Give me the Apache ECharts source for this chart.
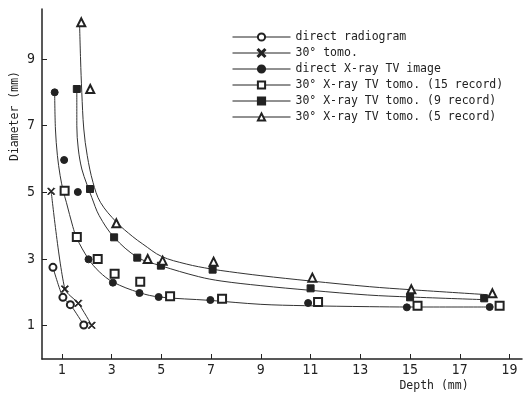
<!DOCTYPE html>
<html>
<head>
<meta charset="utf-8">
<script src="https://cdn.jsdelivr.net/npm/echarts@6/dist/echarts.min.js"></script>
<style>html,body{margin:0;padding:0;background:#fff}#c{width:524px;height:395px}</style>
</head>
<body>
<div id="c"></div>
<script>
// ---- data ----
const xTicks = [1, 3, 5, 7, 9, 11, 13, 15, 17, 19];
const yTicks = [1, 3, 5, 7, 9];

const depthRadiogram = [0.64, 1.04, 1.34, 1.88];
const diamRadiogram  = [2.75, 1.85, 1.63, 1.02];

const depthTomo = [0.57, 1.12, 1.66, 2.2];
const diamTomo  = [5.03, 2.1, 1.67, 1.01];

const depthTV = [0.71, 1.09, 1.64, 2.07, 3.05, 4.12, 4.89, 6.97, 10.9, 14.87, 18.2];
const diamTV  = [8.0, 5.97, 5.01, 2.99, 2.29, 1.98, 1.86, 1.77, 1.68, 1.55, 1.56];

const depthRec15 = [1.11, 1.6, 2.44, 3.12, 4.15, 5.35, 7.44, 11.3, 15.3, 18.6];
const diamRec15  = [5.05, 3.66, 3.0, 2.56, 2.32, 1.88, 1.81, 1.71, 1.6, 1.6];

const depthRec9 = [1.6, 2.13, 3.1, 4.03, 4.98, 7.06, 11.0, 15.0, 17.98];
const diamRec9  = [8.1, 5.1, 3.65, 3.04, 2.8, 2.68, 2.12, 1.85, 1.82];

const depthRec5 = [1.78, 2.14, 3.19, 4.45, 5.05, 7.1, 11.07, 15.05, 18.31];
const diamRec5  = [10.1, 8.1, 4.07, 3.0, 2.95, 2.92, 2.44, 2.09, 1.97];

// fitted curves
const curveADepth = [0.71, 0.74, 0.82, 0.93, 1.05, 1.18, 1.44, 1.6, 2.07, 2.5, 3.05, 4.12, 4.92, 6.93, 9.0, 10.75, 13.36, 15.0, 18.05];
const curveADiam  = [8.0, 6.9, 6.1, 5.5, 5.05, 4.7, 3.97, 3.62, 3.0, 2.62, 2.31, 1.99, 1.86, 1.76, 1.64, 1.6, 1.57, 1.56, 1.56];

const curveBDepth = [1.6, 1.6, 1.66, 1.8, 2.0, 2.2, 2.5, 3.1, 4.04, 4.97, 6.5, 7.4, 9.0, 11.0, 13.3, 15.0, 18.0];
const curveBDiam  = [8.1, 7.0, 6.3, 5.7, 5.25, 4.85, 4.3, 3.65, 3.05, 2.8, 2.47, 2.34, 2.2, 2.06, 1.92, 1.86, 1.78];

const curveCDepth = [1.71, 1.75, 1.8, 1.88, 2.02, 2.25, 2.55, 3.2, 3.85, 4.25, 5.0, 6.0, 7.0, 7.73, 9.0, 11.0, 13.36, 15.0, 18.1];
const curveCDiam  = [10.08, 9.0, 8.0, 6.9, 6.1, 5.3, 4.7, 4.1, 3.67, 3.45, 3.08, 2.85, 2.7, 2.62, 2.5, 2.34, 2.17, 2.08, 1.93];

const names = [
  'direct radiogram',
  '30° tomo.',
  'direct X-ray TV image',
  '30° X-ray TV tomo. (15 record)',
  '30° X-ray TV tomo. (9 record)',
  '30° X-ray TV tomo. (5 record)'
];

// ---- build ----
const zip = (a, b) => a.map((v, i) => [v, b[i]]);
const INK = '#222';
const crossPath = 'path://M1,0L5,4L9,0L10,1L6,5L10,9L9,10L5,6L1,10L0,9L4,5L0,1Z';
const tickFont = "'Liberation Sans Narrow','DejaVu Sans Condensed',sans-serif";
const mono = "'DejaVu Sans Mono','Liberation Mono',monospace";

function markers(name, dx, dy, symbol, size, connect) {
  return {
    name: name, type: 'line', data: zip(dx, dy), z: 5,
    symbol: symbol, symbolSize: size, showSymbol: true,
    smooth: connect ? 0.25 : false,
    itemStyle: { color: INK, borderColor: INK, borderWidth: 1 },
    lineStyle: connect ? { color: '#333', width: 1 } : { color: '#333', width: 1, opacity: 0 },
    emphasis: { disabled: true }
  };
}
function curve(dx, dy) {
  return {
    type: 'line', data: zip(dx, dy), z: 2, silent: true,
    showSymbol: false, symbol: 'none', smooth: 0.35,
    lineStyle: { color: '#333', width: 1 },
    emphasis: { disabled: true }
  };
}

const chart = echarts.init(document.getElementById('c'), null, { renderer: 'canvas' });
chart.setOption({
  animation: false,
  backgroundColor: '#fff',
  grid: { left: 42, right: 2, top: 9, bottom: 36, containLabel: false },
  xAxis: {
    type: 'value', min: 0.2, max: 19.5,
    splitLine: { show: false },
    axisLine: { onZero: false, lineStyle: { color: INK, width: 1.5 } },
    axisTick: { inside: true, length: 5, customValues: xTicks, lineStyle: { color: INK, width: 1 } },
    axisLabel: { customValues: xTicks, margin: 4, color: INK, fontFamily: tickFont, fontSize: 14 }
  },
  yAxis: {
    type: 'value', min: 0, max: 10.5,
    splitLine: { show: false },
    axisLine: { show: true, onZero: false, lineStyle: { color: INK, width: 1.5 } },
    axisTick: { show: true, inside: true, length: 5, customValues: yTicks, lineStyle: { color: INK, width: 1 } },
    axisLabel: { customValues: yTicks, margin: 7, color: INK, fontFamily: tickFont, fontSize: 14 }
  },
  legend: {
    orient: 'vertical', left: 227, top: 26,
    itemWidth: 58, itemHeight: 9, itemGap: 4,
    data: names,
    textStyle: { fontFamily: mono, fontSize: 11.5, color: INK },
    lineStyle: { color: INK, width: 1, opacity: 1 },
    selectedMode: false
  },
  graphic: [
    { type: 'text', x: 15, y: 116, rotation: Math.PI / 2,
      style: { text: 'Diameter (mm)', font: "11.5px 'DejaVu Sans Mono', monospace", fill: INK, align: 'center', verticalAlign: 'middle' } },
    { type: 'text', x: 434, y: 386,
      style: { text: 'Depth (mm)', font: "11.5px 'DejaVu Sans Mono', monospace", fill: INK, align: 'center', verticalAlign: 'middle' } }
  ],
  series: [
    curve(curveADepth, curveADiam),
    curve(curveBDepth, curveBDiam),
    curve(curveCDepth, curveCDiam),
    markers(names[0], depthRadiogram, diamRadiogram, 'emptyCircle', 7, true),
    markers(names[1], depthTomo, diamTomo, crossPath, 7, true),
    markers(names[2], depthTV, diamTV, 'circle', 7, false),
    markers(names[3], depthRec15, diamRec15, 'emptyRect', 8, false),
    markers(names[4], depthRec9, diamRec9, 'rect', 7, false),
    markers(names[5], depthRec5, diamRec5, 'emptyTriangle', 8, false)
  ]
});
</script>
</body>
</html>
